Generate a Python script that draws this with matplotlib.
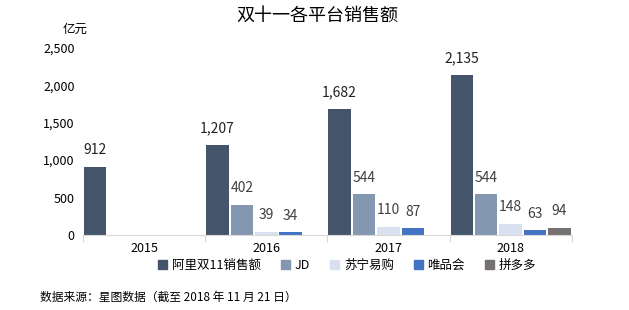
import numpy as np
import matplotlib.pyplot as plt
from matplotlib.patches import Patch

plt.rcParams['font.family'] = ['Noto Sans CJK SC', 'DejaVu Sans']

years = ["2015", "2016", "2017", "2018"]
series = ["阿里双11销售额", "JD", "苏宁易购", "唯品会", "拼多多"]
ali = [912, 1207, 1682, 2135]
jd = [None, 402, 544, 544]
suning = [None, 39, 110, 148]
vip = [None, 34, 87, 63]
pdd = [None, None, None, 94]
colors = ["#44546A", "#8497B0", "#D9E1F0", "#4472C4", "#767171"]

data = [ali, jd, suning, vip, pdd]

fig = plt.figure(figsize=(6.29, 3.10), dpi=100)
ax = fig.add_axes([0.132, 0.242, 0.777, 0.604])

slot = 0.2
for j, (vals, col) in enumerate(zip(data, colors)):
    for i, v in enumerate(vals):
        if v is None:
            continue
        x = i + slot * j + slot / 2
        ax.bar(x, v, width=slot * 0.92, color=col)
        ax.annotate(f"{v:,}", (x, v), xytext=(0, 7), textcoords="offset points",
                    ha="center", va="bottom", fontsize=10,
                    color="#222222" if j == 0 else "#404040")

ax.set_xlim(0, 4)
ax.set_ylim(0, 2500)
ax.set_yticks([0, 500, 1000, 1500, 2000, 2500])
ax.set_yticklabels([f"{t:,}" for t in [0, 500, 1000, 1500, 2000, 2500]], fontsize=9)
ax.tick_params(axis="y", length=0, pad=6)

ax.set_xticks([0, 1, 2, 3, 4])
ax.set_xticklabels([])
ax.set_xticks(np.arange(4) + 0.5, minor=True)
ax.set_xticklabels(years, minor=True, fontsize=9)
ax.tick_params(axis="x", which="major", length=5, color="#D9D9D9")
ax.tick_params(axis="x", which="minor", length=0, pad=5)

for s in ["top", "right", "left"]:
    ax.spines[s].set_visible(False)
ax.spines["bottom"].set_color("#D9D9D9")

fig.text(0.12, 0.905, "亿元", fontsize=9, ha="center", va="center")
fig.text(0.505, 0.95, "双十一各平台销售额", fontsize=13, ha="center", va="center")

handles = [Patch(color=c) for c in colors]
fig.legend(handles, series, loc="center", bbox_to_anchor=(0.552, 0.145), ncol=5,
           frameon=False, fontsize=9, handlelength=0.7, handleheight=0.7,
           handletextpad=0.4, columnspacing=1.6)

fig.text(0.064, 0.042, "数据来源：星图数据（截至 2018 年 11 月 21 日）", fontsize=8.5,
         ha="left", va="center")

fig.savefig("out.png", dpi=100)
